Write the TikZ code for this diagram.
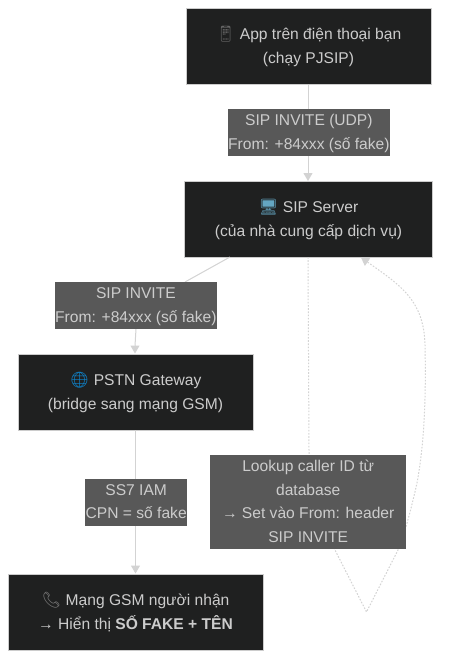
\documentclass[tikz,border=0pt]{standalone}
\usepackage{fontspec}
\setmainfont{Liberation Sans}
\newfontfamily\emojifont{Noto Emoji}
\usetikzlibrary{arrows.meta}
\definecolor{boxfill}{HTML}{1F2020}
\definecolor{boxline}{HTML}{CCCCCC}
\definecolor{labfill}{HTML}{585858}
\definecolor{txt}{HTML}{CCCCCC}
\definecolor{edgec}{HTML}{D3D3D3}
\tikzset{
  x=1pt,y=-1pt,
  boxnode/.style={draw=boxline,line width=1pt,fill=boxfill,text=txt,align=center,inner sep=0pt,
    font=\fontsize{15.6}{24}\selectfont,anchor=north west},
  labnode/.style={fill=labfill,text=txt,align=center,inner sep=0pt,
    font=\fontsize{15.6}{23.5}\selectfont,anchor=north west},
  flow/.style={draw=edgec,line width=1pt,-{Triangle[length=8pt,width=9pt]}},
  flowplain/.style={draw=edgec,line width=1pt},
  dots/.style={draw=edgec,line width=1pt,dash pattern=on 1.6pt off 1.6pt},
  dotsarrow/.style={dots,-{Triangle[length=8pt,width=9pt,fill=edgec,sharp]}},
}
\newcommand{\emo}[2]{{\emojifont\textcolor{#1}{#2}}}
\begin{document}
\begin{tikzpicture}
\useasboundingbox[fill=white] (0,0) rectangle (448,670);
% nodes
\node[boxnode,minimum width=245pt,minimum height=76pt] (app) at (185.5,8)
  {\strut\emo{black!60}{📱} App trên điện thoại bạn\\\strut(chạy PJSIP)};
\node[boxnode,minimum width=248pt,minimum height=76pt] (srv) at (184,181)
  {\strut\emo{cyan!50!gray}{🖥} SIP Server\\\strut(của nhà cung cấp dịch vụ)};
\node[boxnode,minimum width=235pt,minimum height=76pt] (gw) at (17.5,354)
  {\strut\emo{cyan!70!blue}{🌐} PSTN Gateway\\\strut(bridge sang mạng GSM)};
\node[boxnode,minimum width=255pt,minimum height=76pt] (gsm) at (7.5,574)
  {\strut\emo{gray}{📞} Mạng GSM người nhận\\\strut→ Hiển thị \textbf{SỐ FAKE + TÊN}};
% connectors
\coordinate (srvA) at (230,257);
\coordinate (bendA) at (185,282);
\coordinate (lowA) at (136,329);
\coordinate (gwTop) at (135,353.5);
\draw[flow] (app.south -| 308,0) -- (srv.north -| 308,0);
\draw[flowplain] (srvA) -- (bendA);
\draw[flow] (lowA) .. controls (135,338) .. (gwTop);
\draw[flow] (135.5,430) -- (135.5,573.5);
\coordinate (d0) at (308,257);
\coordinate (d1) at (309,450);
\coordinate (d2) at (335,550);
\coordinate (d3) at (366.5,612);
\coordinate (d4) at (398,550);
\coordinate (d5) at (417,483);
\coordinate (d6) at (425,345);
\coordinate (d7) at (361,257.5);
\draw[dotsarrow] (d0) -- (d1) .. controls (311,490) and (322,525) .. (d2)
  -- (d3) -- (d4) .. controls (406,530) and (412,505) .. (d5)
  .. controls (425,440) and (426,390) .. (d6)
  .. controls (424,300) and (400,285) .. (d7);
% edge labels
\node[labnode,minimum width=161pt,minimum height=47pt] (l1) at (228,109)
  {\strut SIP INVITE (UDP)\\\strut From: +84xxx (số fake)};
\node[labnode,minimum width=161pt,minimum height=47pt] (l2) at (55,282)
  {\strut SIP INVITE\\\strut From: +84xxx (số fake)};
\node[labnode,minimum width=102pt,minimum height=47pt] (l3) at (85,478.5)
  {\strut SS7 IAM\\\strut CPN = số fake};
\node[labnode,minimum width=196pt,minimum height=94pt] (l4) at (210,455)
  {\strut Lookup caller ID từ\\\strut database\\\strut→ Set vào From: header\\\strut SIP INVITE};
\end{tikzpicture}
\end{document}
